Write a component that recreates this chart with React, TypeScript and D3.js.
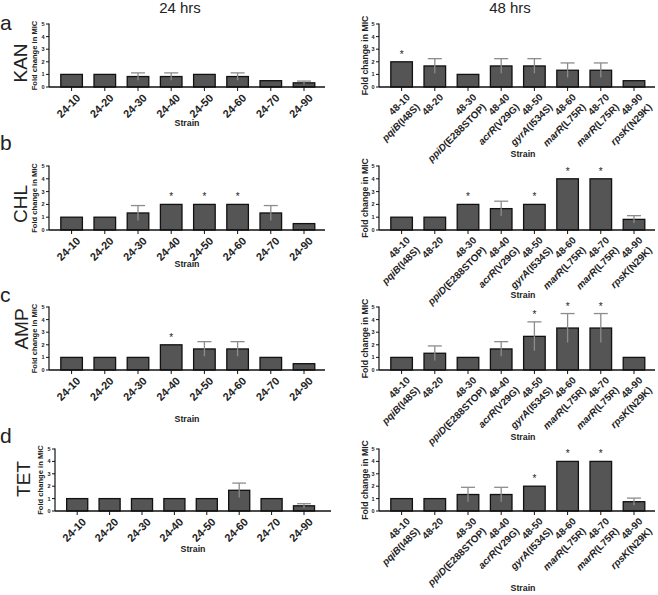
import React from "react";
import * as d3 from "d3";

// ---------- DATA ----------
const strains24 = ["24-10", "24-20", "24-30", "24-40", "24-50", "24-60", "24-70", "24-90"];
const strains48 = ["48-10", "48-20", "48-30", "48-40", "48-50", "48-60", "48-70", "48-90"];
const mutations48 = ["pqiB(I48S)", "", "ppiD(E288STOP)", "acrR(V29G)", "gyrA(I534S)", "marR(L75R)", "marR(L75R)", "rpsK(N29K)"];
const yTicks = [0, 1, 2, 3, 4, 5];
const drugs = ["KAN", "CHL", "AMP", "TET"];
const panelLetters = ["a", "b", "c", "d"];
const timeTitles = ["24 hrs", "48 hrs"];

const kan24 = [1, 1, 0.83, 0.83, 1, 0.83, 0.5, 0.33];
const kan24Err = [0, 0, 0.29, 0.29, 0, 0.29, 0, 0.14];
const kan24Sig = [0, 0, 0, 0, 0, 0, 0, 0];
const kan48 = [2, 1.67, 1, 1.67, 1.67, 1.33, 1.33, 0.5];
const kan48Err = [0, 0.58, 0, 0.58, 0.58, 0.58, 0.58, 0];
const kan48Sig = [1, 0, 0, 0, 0, 0, 0, 0];

const chl24 = [1, 1, 1.33, 2, 2, 2, 1.33, 0.5];
const chl24Err = [0, 0, 0.58, 0, 0, 0, 0.58, 0];
const chl24Sig = [0, 0, 0, 1, 1, 1, 0, 0];
const chl48 = [1, 1, 2, 1.67, 2, 4, 4, 0.83];
const chl48Err = [0, 0, 0, 0.58, 0, 0, 0, 0.29];
const chl48Sig = [0, 0, 1, 0, 1, 1, 1, 0];

const amp24 = [1, 1, 1, 2, 1.67, 1.67, 1, 0.5];
const amp24Err = [0, 0, 0, 0, 0.58, 0.58, 0, 0];
const amp24Sig = [0, 0, 0, 1, 0, 0, 0, 0];
const amp48 = [1, 1.33, 1, 1.67, 2.67, 3.33, 3.33, 1];
const amp48Err = [0, 0.58, 0, 0.58, 1.15, 1.15, 1.15, 0];
const amp48Sig = [0, 0, 0, 0, 1, 1, 1, 0];

const tet24 = [1, 1, 1, 1, 1, 1.67, 1, 0.42];
const tet24Err = [0, 0, 0, 0, 0, 0.58, 0, 0.17];
const tet24Sig = [0, 0, 0, 0, 0, 0, 0, 0];
const tet48 = [1, 1, 1.33, 1.33, 2, 4, 4, 0.75];
const tet48Err = [0, 0, 0.58, 0.58, 0, 0, 0, 0.29];
const tet48Sig = [0, 0, 0, 0, 1, 1, 1, 0];

const series24 = [kan24, chl24, amp24, tet24];
const errors24 = [kan24Err, chl24Err, amp24Err, tet24Err];
const sig24 = [kan24Sig, chl24Sig, amp24Sig, tet24Sig];
const series48 = [kan48, chl48, amp48, tet48];
const errors48 = [kan48Err, chl48Err, amp48Err, tet48Err];
const sig48 = [kan48Sig, chl48Sig, amp48Sig, tet48Sig];

// ---------- LAYOUT ----------
const W = 658;
const H = 595;
const rowTop = [24, 166, 307, 449];
const rowBase = [87, 230, 370, 511];
const leftAxisX = [49, 49, 49, 55];
const leftStep = [33.2, 33.2, 33.2, 32.4];
const rightAxisX = 379;
const rightStep = 33.2;
const leftStrainY = [126, 267, 422, 552];
const rightStrainY = [157, 298, 440, 591];
const drugLabelPos = [
  [21, 63],
  [21, 204],
  [22, 329],
  [24, 479],
];
const letterY = [30, 150, 302, 443];

const FONT = "Arial, 'Liberation Sans', Helvetica, sans-serif";
const BAR_FILL = "#555555";
const ERR_COLOR = "#8c8c8c";

type PanelProps = {
  categories: string[];
  subLabels?: string[];
  values: number[];
  errors: number[];
  sig: number[];
  axisX: number;
  step: number;
  top: number;
  base: number;
  strainY: number;
  strainX: number;
  right: boolean;
};

function Panel(p: PanelProps) {
  const y = d3.scaleLinear().domain([0, 5]).range([p.base, p.top]);
  const start = p.axisX + 6;
  const x = d3
    .scaleBand<string>()
    .domain(p.categories)
    .range([start, start + p.step * p.categories.length])
    .paddingInner(0.35)
    .paddingOuter(0.175);
  const bw = x.bandwidth();
  const axisEnd = p.axisX + 276;
  const yLabFont = p.right ? 8.7 : 7.6;
  const xLabFont = p.right ? 9.8 : 11;
  const capW = bw * 0.65;
  return (
    <g>
      {p.categories.map((c, i) => {
        const v = p.values[i];
        const x0 = x(c)!;
        return (
          <rect
            key={"b" + c}
            x={x0}
            y={y(v)}
            width={bw}
            height={p.base - y(v)}
            fill={BAR_FILL}
            stroke="#111"
            strokeWidth={1.3}
          />
        );
      })}
      {p.categories.map((c, i) => {
        const e = p.errors[i];
        if (!e) return null;
        const cx = x(c)! + bw / 2;
        const v = p.values[i];
        return (
          <g key={"e" + c} stroke={ERR_COLOR} strokeWidth={1.3}>
            <line x1={cx} x2={cx} y1={y(v - e)} y2={y(v + e)} />
            <line x1={cx - capW / 2} x2={cx + capW / 2} y1={y(v + e)} y2={y(v + e)} />
          </g>
        );
      })}
      {p.categories.map((c, i) => {
        if (!p.sig[i]) return null;
        const cx = x(c)! + bw / 2;
        const top = y(p.values[i] + p.errors[i]);
        return (
          <text key={"s" + c} x={cx} y={top - 4} textAnchor="middle" fontSize={10} fontFamily={FONT} fill="#222">
            *
          </text>
        );
      })}
      <line x1={p.axisX} x2={p.axisX} y1={p.top - 0.5} y2={p.base} stroke="#111" strokeWidth={1.2} />
      <line x1={p.axisX} x2={axisEnd} y1={p.base} y2={p.base} stroke="#111" strokeWidth={1.3} />
      {yTicks.map((t) => (
        <g key={"yt" + t}>
          <line x1={p.axisX - 3} x2={p.axisX} y1={y(t)} y2={y(t)} stroke="#111" strokeWidth={1} />
          <text
            x={p.axisX - 4.5}
            y={y(t)}
            dy="0.35em"
            textAnchor="end"
            fontSize={5.5}
            fontWeight="bold"
            fontFamily={FONT}
            fill="#222"
          >
            {t}
          </text>
        </g>
      ))}
      <text
        transform={`translate(${p.axisX - (p.right ? 11 : 12)},${(p.top + p.base) / 2}) rotate(-90)`}
        textAnchor="middle"
        fontSize={yLabFont}
        fontWeight="bold"
        fontFamily={FONT}
        fill="#222"
      >
        Fold change in MIC
      </text>
      {p.categories.map((c, i) => {
        const cx = x(c)! + bw / 2;
        const sub = p.subLabels ? p.subLabels[i] : "";
        const paren = sub.indexOf("(");
        const gene = paren > 0 ? sub.slice(0, paren) : sub;
        const rest = paren > 0 ? sub.slice(paren) : "";
        return (
          <g key={"xt" + c}>
            <line x1={cx} x2={cx} y1={p.base} y2={p.base + 4} stroke="#111" strokeWidth={1} />
            <text
              transform={`translate(${cx + 4},${p.base + 6}) rotate(-45)`}
              textAnchor="end"
              fontSize={xLabFont}
              fontWeight="bold"
              fontFamily={FONT}
              fill="#222"
            >
              <tspan x={0} dy="0.72em">
                {c}
              </tspan>
              {sub ? (
                <tspan x={0} dy="1.4em">
                  <tspan fontStyle="italic">{gene}</tspan>
                  <tspan>{rest}</tspan>
                </tspan>
              ) : null}
            </text>
          </g>
        );
      })}
      <text
        x={p.strainX}
        y={p.strainY}
        textAnchor="middle"
        fontSize={8.8}
        fontWeight="bold"
        fontFamily={FONT}
        fill="#222"
      >
        Strain
      </text>
    </g>
  );
}

export default function App() {
  return (
    <svg width={W} height={H} style={{ display: "block", position: "absolute", left: 0, top: 0 }} fontFamily={FONT}>
      <rect width={W} height={H} fill="#fff" />
      <text x={180} y={13} textAnchor="middle" fontSize={15} fill="#222">
        {timeTitles[0]}
      </text>
      <text x={510} y={13} textAnchor="middle" fontSize={15} fill="#222">
        {timeTitles[1]}
      </text>
      {drugs.map((d, r) => (
        <g key={d}>
          <text x={0} y={letterY[r]} fontSize={21} fill="#222">
            {panelLetters[r]}
          </text>
          <text
            transform={`translate(${drugLabelPos[r][0] + 6},${drugLabelPos[r][1]}) rotate(-90)`}
            textAnchor="middle"
            fontSize={19}
            fill="#222"
          >
            {d}
          </text>
          <Panel
            categories={strains24}
            values={series24[r]}
            errors={errors24[r]}
            sig={sig24[r]}
            axisX={leftAxisX[r]}
            step={leftStep[r]}
            top={rowTop[r]}
            base={rowBase[r]}
            strainY={leftStrainY[r]}
            strainX={r === 3 ? 193 : 187}
            right={false}
          />
          <Panel
            categories={strains48}
            subLabels={mutations48}
            values={series48[r]}
            errors={errors48[r]}
            sig={sig48[r]}
            axisX={rightAxisX}
            step={rightStep}
            top={rowTop[r]}
            base={rowBase[r]}
            strainY={rightStrainY[r]}
            strainX={523}
            right={true}
          />
        </g>
      ))}
    </svg>
  );
}
